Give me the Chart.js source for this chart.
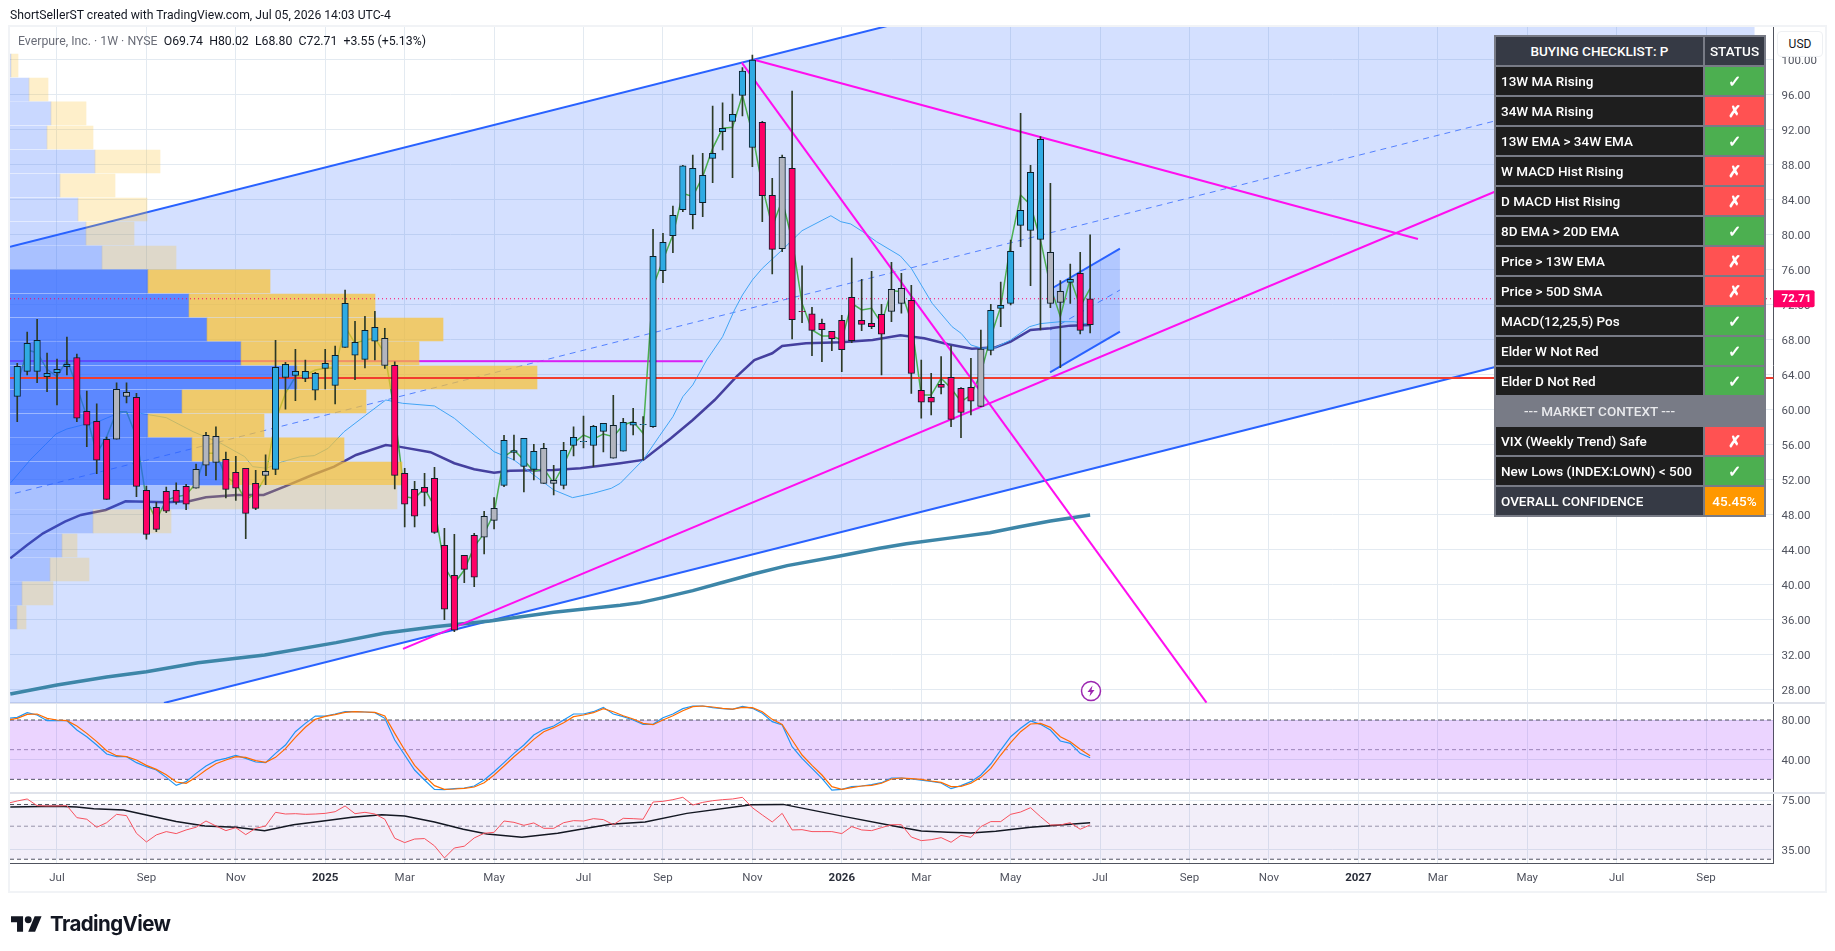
<!DOCTYPE html>
<html>
<head>
<meta charset="utf-8">
<title>Everpure weekly</title>
<script src="https://cdn.jsdelivr.net/npm/chart.js@4/dist/chart.umd.min.js"></script>
<style>
  body { margin: 0; background: #fff; font-family: Roboto, "Liberation Sans", sans-serif; }
  #wrap { position: relative; width: 1835px; height: 951px; overflow: hidden; }
  #chart { position: absolute; left: 0; top: 0; }
  #frame { position: absolute; left: 8px; top: 25px; width: 1815px; height: 864px; border: 2px solid #f1f3f6; pointer-events: none; }
  #credit { position: absolute; left: 10px; top: 8px; font-size: 12.2px; color: #131722; }
  #legend { position: absolute; left: 18px; top: 34px; font-size: 12.3px; color: #131722; white-space: pre; }
  #legend span { color: #6a6d78; }
  #usd { position: absolute; left: 1777px; top: 31px; width: 44px; height: 24px; background: #fff; border: 1px solid #eef0f3; border-radius: 4px; font-size: 12px; line-height: 24px; text-align: center; color: #131722; }
  #flash { position: absolute; left: 1080px; top: 680px; }
  #logo { position: absolute; left: 11px; top: 911px; display: flex; align-items: center; }
  #logo b { font: 700 20.5px Inter, "Liberation Sans", sans-serif; letter-spacing: -0.6px; margin-left: 8px; color: #131722; }
  #check { position: absolute; left: 1494px; top: 35px; width: 270px; height: 482px; border-collapse: collapse; table-layout: fixed; font-size: 13.5px; font-weight: 500; color: #fff; }
  #check td { border: 2px solid #787b86; padding: 0 5px 1px; height: 25px; background: #1e1e1e; white-space: nowrap; overflow: hidden; }
  #check td.st { text-align: center; padding: 0; font-size: 16px; font-weight: 700; }
  #check tr.head td { background: #363a45; text-align: center; }
  #check tr.head td.st { font-size: 13.5px; font-weight: 500; }
  #check tr.sect td { background: #787b86; text-align: center; color: #e8e9ec; }
  #check tr.sect td + td { border-left-color: #787b86; }
  #check tr.total td { background: #363a45; }
  #check td.ok { background: #4caf50; }
  #check td.no { background: #ff5252; }
  #check tr.total td.pct { background: #ff9800; font-size: 13.5px; font-weight: 500; }
</style>
</head>
<body>
<div id="wrap">
  <canvas id="chart" width="1835" height="951"></canvas>
  <div id="frame"></div>
  <div id="credit">ShortSellerST created with TradingView.com, Jul 05, 2026 14:03 UTC-4</div>
  <div id="legend"><span>Everpure, Inc. · 1W · NYSE</span>  O69.74  H80.02  L68.80  C72.71  +3.55 (+5.13%)</div>
  <div id="usd">USD</div>
  <svg id="flash" width="22" height="22" viewBox="0 0 22 22"><circle cx="11" cy="11" r="9.5" fill="#fff" stroke="#9c27b0" stroke-width="1.5"/><path d="M12.5 5.5 7.5 12h3l-1 4.5 5-6.5h-3z" fill="#9c27b0"/></svg>
  <div id="logo">
    <svg width="31" height="18" viewBox="0 4 36 18"><path d="M14 22H7V11H0V4h14v18zM28 22h-8l7.5-18h8L28 22z" fill="#131722"/><circle cx="20" cy="8" r="4" fill="#131722"/></svg>
    <b>TradingView</b>
  </div>
  <table id="check"><colgroup><col style="width:209px"><col style="width:61px"></colgroup><tbody></tbody></table>
</div>

<script>
// weekly bars, week 0 = 1 Jul 2024
const firstBar = -4;
const bodyTop = [
  64.99,67.62,67.96,64.19,64.65,65.22,66,59.85,58.7,56.65,
  62.36,62.02,61.45,50.82,48.88,50.7,50.82,51.27,53.22,57.1,
  57,54.36,52.88,53.33,51.62,52.99,64.88,65.22,64.42,64.42,
  64.19,65.33,66.25,72.19,67.73,69.1,69.45,68.19,65.1,52.76,
  50.93,51.16,52.19,44.53,41.1,43.39,45.68,47.85,48.76,56.53,
  55.35,56.76,55.28,55.62,51.96,55.39,56.88,56.42,58.13,58.48,
  58.25,58.59,58.59,58.36,77.56,79.16,82.25,87.89,87.62,86.82,
  89.33,92.19,93.79,98.74,100,92.87,84.53,88.87,87.62,71.27,
  71,69.9,68.99,70.25,72.87,70.25,69.9,70.93,73.79,73.9,
  72.53,62.25,61.45,62.93,63.73,62.48,62.59,66.97,71.39,71.96,
  78.13,82.82,87.16,90.93,78.02,73.56,74.93,75.62,72.71];
const bodyBottom = [
  61.56,64.42,64.42,63.81,64.27,64.95,59.05,58.25,54.25,49.79,
  56.65,61.56,51.27,45.79,46.36,48.42,49.45,49.22,51.05,53.68,
  54,50.93,51.05,48.19,48.76,52.53,53.22,63.73,63.96,63.62,
  62.25,64.76,62.82,67.16,66.25,65.79,67.85,65.1,52.53,49.22,
  47.85,50.59,46,37.22,34.82,41.79,40.88,45.45,47.39,51.39,
  55.16,53.56,53.22,51.62,51.62,51.39,55.96,56.38,55.96,57.56,
  54.48,55.28,58.25,58.32,58.1,75.92,79.92,82.9,82.32,83.69,
  88.76,91.81,92.99,95.96,90,84.5,78.36,78.44,70.32,71.24,
  69.1,69.18,68.15,66.9,67.92,69.79,69.52,68.65,71.27,72.19,
  64.19,60.88,60.88,62.59,58.93,59.73,61,60.42,66.82,71.62,
  72.19,81.1,80.53,79.5,72.19,72.3,74.59,69.1,69.74];
const barHigh = [
  65.33,68.9,70.36,66.5,65.83,68.34,66.4,62.17,60.69,56.9,
  63.09,63.09,61.9,51.3,49.45,51.2,51.66,51.5,53.83,57.45,
  58.06,55.2,54.7,53.33,53.1,54.86,67.96,65.45,66.93,65.71,
  64.3,66.93,67.31,73.71,70.13,70.7,71.28,69.33,65.49,53.33,
  51.85,52.76,53.45,46.48,45.79,43.39,45.9,48.42,50,57.1,
  57.14,56.76,56.08,56.19,53.68,56.3,58.06,59.3,58.25,58.48,
  61.68,59.05,60.19,59.24,80.65,80.19,83.31,87.96,89.14,89.33,
  94.74,95.09,96.11,99.12,100.57,92.99,86.47,89.14,96.46,76.46,
  71.73,70.4,68.99,70.82,77.37,74.93,75.85,72.08,76.88,75.62,
  74.25,65.71,64.19,66.09,67.31,62.55,65.91,69.14,72.08,74.63,
  79.43,93.9,87.96,91.24,85.9,74.78,76.68,78.02,80.02];
const barLow = [
  58.67,64,63.12,62.1,60.57,64,58.67,55.81,52.72,49.79,
  56.65,60.8,50.1,45.22,46.1,48.27,49.22,48.61,51.05,52.5,
  52,49.94,49.67,45.3,48.61,51.47,52.6,60.1,61.07,63.24,
  61.14,62.4,60.69,67.16,63.47,64.8,65.71,64.76,50.97,46.63,
  46.63,49.03,45.9,36.04,34.67,40.27,39.81,43.54,46.4,51.24,
  54.29,50.63,52,51.62,50.29,50.97,54.74,55.66,53.56,55.2,
  54.48,55.28,57.14,54.29,58.02,74.55,77.98,82.66,80.69,82.09,
  85.98,89.71,86.55,93.6,87.81,81.52,75.54,78.1,68.11,69.98,
  66.21,65.52,66.78,64.38,67.69,69.07,69.29,64,70.1,71.05,
  61.9,59.05,59.43,61.83,58.1,56.84,59.43,60.38,66.29,69.52,
  72,78.67,74.21,69.14,71.69,64.84,72.19,68.69,68.8];
// impulse state of each bar: b up, p down, g neutral
const impulse = (
  "bbbbbbpppp" + "ggppppppgg" + "gppppgbbbb" + "bbbbbbbgpp" + "pppppppggb" +
  "bbbggbbbbb" + "gbbbbbbbbb" + "bbbbbppgpp" + "ppppppppgg" + "pppppppgbb" + "bbbbggbpp").split("");

const fastEma = [
  62.86,66.86,66.55,64.65,63.81,65.71,62.67,59.24,55.05,56.95,
  59.81,59.81,56.95,49.71,47.43,49.71,50.09,50.29,51.62,55.05,
  55.05,52.38,51.62,49.71,50.48,52.38,58.86,61.9,63.81,64,
  64.57,64.76,64.76,69.52,67.62,68,68.19,66.48,59.62,50.09,
  49.9,51.05,48.95,42.1,40.19,41.71,44.38,45.9,48.19,54.67,
  55.43,54.29,52.95,53.33,51.62,53.71,56.19,57.14,56.65,57.26,
  56.95,58.29,58.67,57.33,74.1,77.14,80,84.76,84.38,86.67,
  89.9,92.19,92.3,96,91.62,85.52,80.95,84,79.43,72.19,
  69.14,68.46,68.46,68,72.19,71.43,71.62,69.9,73.64,73.52,
  70.1,61.71,61.71,63.62,62.48,60.95,61.71,64.19,68.38,71.81,
  79.05,84.57,83.43,79.43,74.1,70.67,75.05,71.81,73.9];

// moving averages read at their visible vertices
const ma13Weeks = [-4.66,-2.7,-0.1,1,2.6,4.3,5.5,6.7,8.4,11,13.7,16.5,18.9,19.7,21.1,22.7,24.5,25.9,27.3,28.9,31.1,33.1,34.8,38,40,42,44,46,48,50,51.9,54,55.8,56.7,59,60.6,62,63,64,65.4,67,68.2,69,70,71,73,75,77.9,78.9,79.9,81.1,82.5,84.9,86,88.1,90.1,91,92,93.1,94.5,96,97.9,99,101,102.4,104];
const ma13Values = [51.69,54.29,57.26,57.83,58.29,58.74,59.31,59.74,59.62,59.12,57.52,56.19,54.66,53.52,53.34,54.09,54.66,54.78,55.62,57.52,59.43,61.14,60.76,60.46,59.05,57.14,55.23,54.29,52.57,50.86,49.98,50.48,51.05,51.62,54.29,56.95,59.23,61.52,62.86,65.71,68.37,71.43,73.14,74.86,76.19,78.29,80.49,82.2,81.52,81.26,80.38,79.23,77.6,76.19,72.19,69.52,68.77,67.43,67.05,67.17,68,69.52,69.87,70.09,70.09,69.79];
const ma34Weeks = [-4.7,-3,-1.4,0.8,2.4,4.9,6.9,9,11,13.4,15,18.1,20.8,22.9,25.7,27.9,30.1,33.1,34.4,37.6,40,42,44,45.6,50,52.7,56.7,59,61.8,64,66.2,68.4,70.2,72,73,75.4,78.9,82.1,84.9,87.3,89.7,92.1,94.5,96,98,100,102,104];
const ma34Values = [43.05,44.57,45.9,47.23,48,48.57,49.56,49.52,49.45,49.6,50.02,50.29,50.29,51.23,52.57,53.52,54.86,56,55.81,55.17,53.91,53.22,52.83,53.06,53.14,53.34,53.91,54.29,56.77,58.86,61.14,63.81,65.71,66.48,67.31,67.62,67.74,68,68.53,68.19,67.51,67.01,67.17,67.81,69.14,69.34,69.64,69.71];
const ma200Weeks = [-4.7,0,5,9,14.2,20.9,28.1,32.9,38,43.6,50,56.7,58.7,61,64,66.7,70.1,73.5,78.8,82.8,85.5,90.2,93.9,96.9,100,104];
const ma200Values = [27.54,28.57,29.49,30.09,31.12,32,33.41,34.48,35.23,35.89,36.88,37.68,37.98,38.55,39.35,40.19,41.26,42.21,43.31,44.19,44.72,45.41,45.97,46.66,47.31,48];

// volume profile rows, top to bottom
const profilePrice = [99.37,96.63,93.89,91.14,88.4,85.66,82.91,80.17,77.43,74.69,71.94,69.2,66.46,63.71,60.97,58.23,55.49,52.74,50,47.26,44.51,41.77,39.03,36.29];
const profileUp = [1,19,41,37,85,50,68,76,92,138,179,197,231,287,172,138,182,213,179,83,52,40,12,7];
const profileTotal = [8,38,76,83,150,105,137,124,166,260,365,433,409,527,356,254,334,392,387,161,67,79,43,16];
const valueAreaFirst = 9, valueAreaLast = 17;

// drawings, as [week, price]
const channelTop = [[-4.73,78.66],[170.9,128.83]];
const channelBottomFill = [[-4.73,26.51],[10.77,26.51],[170.9,72.4]];
const channelBottom = [[10.77,26.51],[170.9,72.4]];
const channelMid = [[-4.23,50.48],[170.9,100.5]];
const miniTop = [[99.96,73.77],[107,78.43]];
const miniBottom = [[99.96,64.31],[107,68.95]];
const miniMid = [[99.96,69.14],[107,73.71]];
const trendDown = [[68.93,99.69],[115.71,26.55]];
const trendFlat = [[70.26,100],[137,79.54]];
const trendUp = [[34.83,32.69],[165.4,94.77]];
const oldResistance = [[-4.73,65.6],[65,65.58]];
const supportLevel = 63.66;
const lastClose = 72.71;

// stochastic and RSI panes, first value is week -5
const oscFirst = -5;
const stochK = [81.7,
  82.7,87.4,85.05,79.3,79.3,79.3,69.9,63.15,54.7,45.6,
  42.9,42.9,36.85,32.8,29.45,22,13.9,17.65,26.05,33.5,
  38.9,41.25,44.3,41.25,37.55,36.85,46.3,54.7,68.2,76.6,
  84,84,86.05,88.4,88.4,88.1,87.4,81.7,59.8,44.6,
  29.45,19.3,9.9,9.55,10.55,11.25,13.25,19.3,27.75,36.85,
  46.3,54.7,64.85,70.55,73.95,80,86.05,86.05,88.4,92.8,
  86.05,83.35,80,75.6,75.6,82.35,86.05,91.45,94.15,94.15,
  92.45,91.45,90.8,93.8,91.8,86.75,78.3,74.95,53,41.25,
  31.1,21,9.2,9.9,12.6,13.25,14.6,16.6,21.35,21.35,
  20.35,19.3,18,16.3,10.55,13.6,17.65,24.4,35.5,49.65,
  63.15,71.6,79,75.6,69.9,58.75,56.4,46.3,41.9];
const stochD = [80,
  81.7,85.7,86.05,81.7,80,79.3,73.95,66.5,58.1,49,
  43.9,42.9,39.55,34.15,30.1,24.7,17.3,16,22,29.45,
  35.85,39.55,42.9,42.25,38.9,37.2,42.25,51,62.5,72.6,
  80.65,83.7,85.4,87.75,88.4,88.1,87.75,84,66.5,49.65,
  34.15,23.4,13.6,9.9,10.25,10.9,12.25,16.6,24.4,33.5,
  42.9,51.35,60.45,68.2,72.25,77.3,83.35,85.05,87.4,91.45,
  88.4,84.35,81,76.6,75.25,80,84.35,89.4,93.5,94.15,
  93.15,91.8,91.1,92.8,92.45,88.4,80.65,75.6,59.8,44.6,
  34.15,24.4,12.6,9.9,11.6,13.25,13.9,16,20.35,21.35,
  20.7,20,18.3,16.95,12.6,12.95,16,22,31.1,44.6,
  57.1,68.2,75.95,76.6,72.6,63.15,58.1,50.35,43.9];
const rsiValues = [71.2,
  73.9,76.2,68.7,68.4,68.4,68.7,57.1,55.7,49.2,52.8,
  60.1,58.9,44.8,39.2,43.7,46,44.6,47.2,49.2,54.2,
  50.2,46.7,48.9,43.9,48.4,50.2,62,60.4,60.7,60.1,
  60.4,61,62.6,68.4,60.7,62,60.4,55.7,41.5,38.8,
  41,41.3,36.9,30.6,35.7,36.7,41.7,44.8,45.5,54.2,
  53.1,50.7,52.6,48.4,48.4,52.8,54.5,54.2,56.2,55.4,
  51.2,56.5,56.2,55.7,72.7,73.5,75.4,78.2,69.4,72.3,
  74.2,75.4,76.2,78.2,66.6,59.5,53.4,61,47.2,47.4,
  46,46,46,44.6,49.7,47.2,46.7,48.9,51.2,51.2,
  42.3,40,40.6,41.9,39,43.4,42.1,49.7,53.7,53.7,
  60.1,62.3,66.6,58,51,51,52.8,47.7,51];
const rsiMaWeeks = [-4.7,0,2,3.7,6.7,9,12,14.9,18,20.9,23.8,27,29.7,32.7,35,38,40.9,43.3,46.8,50.4,53.3,55.7,59.2,63.4,69.9,73.1,79.3,84.9,87,89.7,92,94.5,98,102.3,104];
const rsiMaValues = [67.3,68,67.3,65.6,64.3,59.5,53.7,50.2,49.2,46.7,51.2,54.5,57.4,59.8,58.6,53.4,47.7,44.4,42.1,44.8,48.4,51.5,53.4,61,69.8,70.1,58,49.2,46.5,45.5,45,46.2,49.2,51.7,52.8];

// axes
const priceTicks = [100,96,92,88,84,80,76,72,68,64,60,56,52,48,44,40,36,32,28];
const stochTicks = [80,40];
const stochBands = [80,50,20];
const rsiTicks = [75,35];
const rsiBands = [70,50,30];
const timeTickWeeks = [0,9,18,27,35,44,53,61,70,79,87,96,105,114,122,131,139,148,157,166];
const timeTickLabels = ["Jul","Sep","Nov","2025","Mar","May","Jul","Sep","Nov","2026","Mar","May","Jul","Sep","Nov","2027","Mar","May","Jul","Sep"];

// checklist panel
const checkLabels = ["13W MA Rising","34W MA Rising","13W EMA > 34W EMA","W MACD Hist Rising","D MACD Hist Rising","8D EMA > 20D EMA","Price > 13W EMA","Price > 50D SMA","MACD(12,25,5) Pos","Elder W Not Red","Elder D Not Red"];
const checkPass = [1,0,1,0,0,1,0,0,1,1,1];
const contextLabels = ["VIX (Weekly Trend) Safe","New Lows (INDEX:LOWN) < 500"];
const contextPass = [0,1];

const xMin = -4.73, xMax = 172.8;
const barColors = { b: "#2fabe3", p: "#ff0066", g: "#b2b5be" };
const gridColor = "#e3eaf1";
const tickColor = "#50535e";
const tickFont = { family: "Roboto, 'Liberation Sans', sans-serif", size: 11.5 };

const barWeeks = bodyTop.map((_, n) => firstBar + n);
const oscWeeks = stochK.map((_, n) => oscFirst + n);
const zip = (xs, ys) => xs.map((x, n) => ({ x: x, y: ys[n] }));
const seg = pts => pts.map(p => ({ x: p[0], y: p[1] }));
const flat = v => [{ x: xMin, y: v }, { x: xMax, y: v }];

function lineSet(data, color, width, order, extra) {
  return Object.assign({
    type: "line", data: data, borderColor: color, borderWidth: width, order: order,
    pointRadius: 0, tension: 0, fill: false, xAxisID: "x", yAxisID: "y"
  }, extra || {});
}

const datasets = [
  // channel fills are drawn first
  lineSet(seg(channelTop), "#2962ff", 2, 20, { fill: "+1", backgroundColor: "rgba(41,98,255,0.2)" }),
  lineSet(seg(channelBottomFill), "rgba(0,0,0,0)", 0, 21),
  lineSet(seg(channelBottom), "#2962ff", 2, 19),
  lineSet(seg(channelMid), "rgba(41,98,255,0.75)", 1, 19, { borderDash: [6, 5] }),
  lineSet(seg(miniTop), "#2962ff", 2, 18, { fill: "+1", backgroundColor: "rgba(41,98,255,0.2)" }),
  lineSet(seg(miniBottom), "#2962ff", 2, 18),
  lineSet(seg(miniMid), "rgba(41,98,255,0.75)", 1, 18, { borderDash: [6, 5] }),
  lineSet(seg(oldResistance), "#d91ff5", 2, 17),

  lineSet(zip(ma200Weeks, ma200Values), "#3d86a8", 3.5, 16),
  lineSet(zip(ma34Weeks, ma34Values), "#45409f", 2.5, 15),
  lineSet(zip(ma13Weeks, ma13Values), "#42a5f5", 1, 14),
  lineSet(zip(barWeeks, fastEma), "#4caf50", 1.5, 13),

  // volume profile sits above the averages, so they show through it
  { type: "bar", indexAxis: "y", grouped: false, order: 12, xAxisID: "xv", yAxisID: "y", barThickness: 23,
    data: profilePrice.map((p, n) => ({ x: [0, profileUp[n]], y: p })),
    backgroundColor: profilePrice.map((_, n) => n >= valueAreaFirst && n <= valueAreaLast ? "rgba(41,98,255,0.7)" : "rgba(41,98,255,0.25)") },
  { type: "bar", indexAxis: "y", grouped: false, order: 11, xAxisID: "xv", yAxisID: "y", barThickness: 23,
    data: profilePrice.map((p, n) => ({ x: [profileUp[n], profileTotal[n]], y: p })),
    backgroundColor: profilePrice.map((_, n) => n >= valueAreaFirst && n <= valueAreaLast ? "rgba(251,192,45,0.7)" : "rgba(251,192,45,0.25)") },

  lineSet(seg(trendDown), "#ff0fef", 2, 10),
  lineSet(seg(trendFlat), "#ff0fef", 2, 10),
  lineSet(seg(trendUp), "#ff0fef", 2, 10),
  lineSet(flat(supportLevel), "#f23d2f", 2, 9),
  lineSet(flat(lastClose), "#ff0066", 1, 8, { borderDash: [1, 3] }),

  { type: "bar", grouped: false, order: 7, xAxisID: "x", yAxisID: "y", barThickness: 1,
    data: barWeeks.map((w, n) => ({ x: w, y: [barLow[n], barHigh[n]] })),
    backgroundColor: "#2c3a26" },
  { type: "bar", grouped: false, order: 6, xAxisID: "x", yAxisID: "y", barThickness: 6.5,
    data: barWeeks.map((w, n) => ({ x: w, y: [bodyBottom[n], bodyTop[n]] })),
    backgroundColor: impulse.map(k => barColors[k]),
    borderColor: "#0c1f2b", borderWidth: 1, borderSkipped: false },

  // stochastic pane
  lineSet(flat(stochBands[0]), "#50535e", 1, 5, { yAxisID: "yStoch", borderDash: [4, 3], fill: "+1", backgroundColor: "rgba(156,39,255,0.2)" }),
  lineSet(flat(stochBands[2]), "#50535e", 1, 5, { yAxisID: "yStoch", borderDash: [4, 3] }),
  lineSet(flat(stochBands[1]), "#9a9aa6", 1, 5, { yAxisID: "yStoch", borderDash: [4, 3] }),
  lineSet(zip(oscWeeks, stochK), "#2196f3", 1.2, 4, { yAxisID: "yStoch" }),
  lineSet(zip(oscWeeks, stochD), "#ff6d00", 1.2, 3, { yAxisID: "yStoch" }),

  // RSI pane
  lineSet(flat(rsiBands[0]), "#50535e", 1, 5, { yAxisID: "yRsi", borderDash: [4, 3], fill: "+1", backgroundColor: "rgba(126,87,194,0.1)" }),
  lineSet(flat(rsiBands[2]), "#50535e", 1, 5, { yAxisID: "yRsi", borderDash: [4, 3] }),
  lineSet(flat(rsiBands[1]), "#9a9aa6", 1, 5, { yAxisID: "yRsi", borderDash: [4, 3] }),
  lineSet(zip(rsiMaWeeks, rsiMaValues), "#131722", 1.5, 4, { yAxisID: "yRsi" }),
  lineSet(zip(oscWeeks, rsiValues), "#f7525f", 1, 3, { yAxisID: "yRsi" })
];

function yAxis(stackWeight, ticks, min, max, type) {
  return {
    type: type || "linear", position: "right", stack: "panes", stackWeight: stackWeight, min: min, max: max,
    offset: false,
    afterBuildTicks: s => { s.ticks = ticks.map(v => ({ value: v })); },
    afterFit: s => { s.width = 51.4; },
    grid: { color: gridColor, drawTicks: false, offset: false },
    border: { color: "#50535e" },
    ticks: { color: tickColor, font: tickFont, padding: 8, labelOffset: 1.5, callback: v => Number(v).toFixed(2) }
  };
}

// pane separators and the last price tag
const overlay = {
  id: "overlay",
  beforeDatasetsDraw(chart) {
    const c = chart.ctx;
    c.save();
    c.fillStyle = "#e0e3eb";
    c.fillRect(chart.chartArea.left, chart.scales.y.bottom - 1, 1815, 2);
    c.fillRect(chart.chartArea.left, chart.scales.yStoch.bottom - 1, 1815, 2);
    c.restore();
  },
  afterDraw(chart) {
    const c = chart.ctx, y = chart.scales.y.getPixelForValue(lastClose);
    c.save();
    c.fillStyle = "#ff0066";
    c.beginPath();
    c.roundRect(chart.chartArea.right, y - 8.5, 41, 17, [0, 2, 2, 0]);
    c.fill();
    c.fillStyle = "#fff";
    c.font = "700 11.5px Roboto, 'Liberation Sans', sans-serif";
    c.textBaseline = "middle";
    c.fillText(lastClose.toFixed(2), chart.chartArea.right + 8, y + 0.5);
    c.restore();
  }
};

new Chart(document.getElementById("chart").getContext("2d"), {
  data: { datasets: datasets },
  plugins: [overlay],
  options: {
    responsive: false,
    animation: false,
    devicePixelRatio: 1,
    layout: { autoPadding: false, padding: { left: 10, top: 27, right: 10, bottom: 60 } },
    plugins: { legend: { display: false }, tooltip: { enabled: false } },
    scales: {
      x: {
        type: "linear", position: "bottom", min: xMin, max: xMax, offset: false,
        afterBuildTicks: s => { s.ticks = timeTickWeeks.map(v => ({ value: v })); },
        afterFit: s => { s.height = 28; },
        grid: { color: gridColor, drawTicks: false, offset: false },
        border: { color: "#50535e" },
        ticks: {
          autoSkip: false, maxRotation: 0, padding: 8,
          callback: (v, n) => timeTickLabels[n],
          color: c => /^\d/.test(timeTickLabels[c.index]) ? "#2a2e39" : tickColor,
          font: c => ({ family: tickFont.family, size: tickFont.size, weight: /^\d/.test(timeTickLabels[c.index]) ? "700" : "400" })
        }
      },
      xv: { type: "linear", axis: "x", display: false, min: 0, max: 1763.6, offset: false },
      y: yAxis(676, priceTicks, 26.51, 103.77),
      yStoch: yAxis(90, stochTicks, 6.19, 97.19),
      yRsi: yAxis(70, rsiTicks, 28.3, 83.6, "logarithmic")
    }
  }
});

// checklist table
const tbody = document.querySelector("#check tbody");
function addRow(cls, left, right, rightCls) {
  const tr = document.createElement("tr");
  tr.className = cls;
  const a = document.createElement("td"), b = document.createElement("td");
  a.textContent = left;
  b.textContent = right;
  b.className = "st " + rightCls;
  tr.append(a, b);
  tbody.append(tr);
}
addRow("head", "BUYING CHECKLIST: P", "STATUS", "");
checkLabels.forEach((t, n) => addRow("", t, checkPass[n] ? "✓" : "✗", checkPass[n] ? "ok" : "no"));
addRow("sect", "--- MARKET CONTEXT ---", "", "");
contextLabels.forEach((t, n) => addRow("", t, contextPass[n] ? "✓" : "✗", contextPass[n] ? "ok" : "no"));
addRow("total", "OVERALL CONFIDENCE", "45.45%", "pct");
</script>
</body>
</html>
